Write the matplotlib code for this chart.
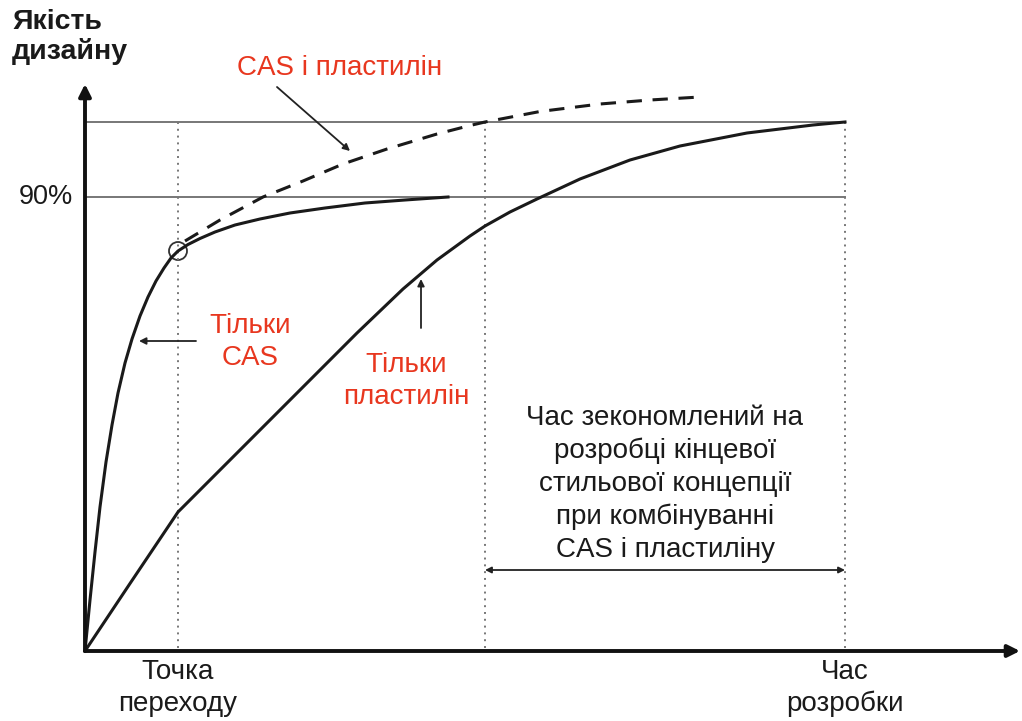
#!/usr/bin/env python3
import matplotlib.pyplot as plt
import numpy as np

plt.rcParams['font.family'] = ['Liberation Sans', 'DejaVu Sans']

# curves, in picture pixels (x right, y down)
cas_x = [85, 90, 95, 100, 106, 112, 118, 125, 132, 140, 148, 156, 164, 171, 178,
         188, 200, 215, 235, 260, 290, 325, 365, 405, 448]
cas_y = [651, 600, 552, 507, 462, 425, 393, 363, 339, 316, 297, 281, 268, 258, 251,
         244.5, 238.5, 232, 225, 219, 213, 208, 203, 200, 197]

clay_x = [85, 130, 178, 237, 303, 357, 403, 437, 470, 485, 510, 537, 580, 630,
          680, 747, 813, 845]
clay_y = [651, 583.5, 512, 453, 387, 333, 289, 260, 236, 226, 212, 199, 179, 160,
          146, 133, 125, 122]

dash_x = [185, 220, 263, 303, 343, 387, 437, 470, 485, 540, 600, 650, 700]
dash_y = [241, 220, 197, 181, 164, 149, 134, 125.5, 122, 111.5, 104, 100, 97]

origin = (85, 651)
top_level = 122
level_90 = 197
switch_x = 178
merge_x = 485
end_x = 845

red = '#e8371f'
ink = '#1a1a1a'

fig = plt.figure(figsize=(10.22, 7.21), dpi=100)
ax = fig.add_axes([0, 0, 1, 1])
ax.set_xlim(0, 1022)
ax.set_ylim(721, 0)
ax.axis('off')

def arrow(start, end, style='-|>', lw=1.3, size=10, color='#222222'):
    ax.annotate('', xy=end, xytext=start,
                arrowprops=dict(arrowstyle=style, color=color, lw=lw,
                                mutation_scale=size, shrinkA=0, shrinkB=0))

# axes with arrows
arrow(origin, (1020, origin[1]), lw=2.8, size=18, color='#111111')
arrow(origin, (origin[0], 84), lw=2.8, size=18, color='#111111')

# reference levels
ax.plot([origin[0], end_x], [top_level, top_level], color='#777777', lw=1.4)
ax.plot([origin[0], end_x], [level_90, level_90], color='#777777', lw=1.4)

# dotted guides
for x in [switch_x, merge_x, end_x]:
    ax.plot([x, x], [top_level, origin[1]], color='#777777', lw=1.4,
            linestyle=(0, (1, 2.5)))

# curves
ax.plot(cas_x, cas_y, color=ink, lw=2.2, solid_joinstyle='round')
ax.plot(clay_x, clay_y, color=ink, lw=2.2, solid_joinstyle='round')
ax.plot(dash_x, dash_y, color=ink, lw=2.2, linestyle=(0, (5, 3.5)))

# transition point marker
ax.add_patch(plt.Circle((switch_x, 251), 9, fill=False, color='#333333', lw=1.3))

# texts
ax.text(12, 37, 'Якість\nдизайну', fontsize=20.5, fontweight='bold',
        ha='left', va='center', linespacing=1.15, color=ink)
ax.text(73, level_90, '90%', fontsize=19.5, ha='right', va='center', color=ink)

ax.text(340, 68, 'CAS і пластилін', fontsize=20, color=red, ha='center', va='center')
arrow((277, 87), (350, 151))

ax.text(250, 342, 'Тільки\nCAS', fontsize=20, color=red, ha='center', va='center',
        linespacing=1.28)
arrow((196, 341), (139, 341))

ax.text(406, 381, 'Тільки\nпластилін', fontsize=20, color=red, ha='center', va='center',
        linespacing=1.3)
arrow((421, 328), (421, 279))

ax.text(665, 484, 'Час зекономлений на\nрозробці кінцевої\nстильової концепції\n'
        'при комбінуванні\nCAS і пластиліну', fontsize=20, color=ink,
        ha='center', va='center', linespacing=1.34)
arrow((merge_x, 570), (end_x, 570), style='<|-|>', size=9)

ax.text(switch_x, 688, 'Точка\nпереходу', fontsize=20, color=ink,
        ha='center', va='center', linespacing=1.28)
ax.text(end_x, 688, 'Час\nрозробки', fontsize=20, color=ink,
        ha='center', va='center', linespacing=1.28)

fig.savefig('out.png', dpi=100)
